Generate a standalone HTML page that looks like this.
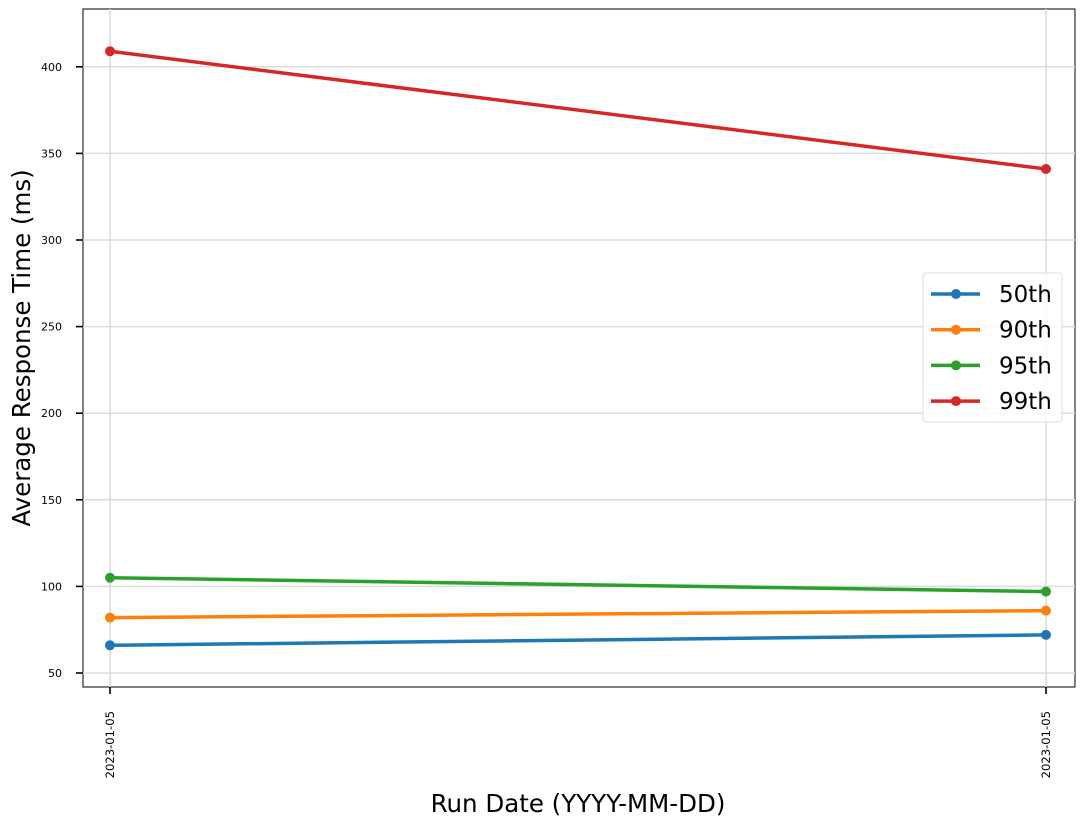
<!DOCTYPE html>
<html><head><meta charset="utf-8"><style>
body{margin:0;background:#fff;}
svg{display:block;font-family:"DejaVu Sans","Liberation Sans",sans-serif;}
</style></head><body>
<svg id="chart" width="1084" height="827">
<rect x="83" y="9" width="992" height="678" fill="#fff" stroke="#000" stroke-width="1"/>
<g id="grid"></g><g id="axes"></g><g id="series"></g>
<text x="578" y="812" font-size="24.5" text-anchor="middle">Run Date (YYYY-MM-DD)</text>
<text transform="translate(30,348) rotate(-90)" font-size="24.5" text-anchor="middle">Average Response Time (ms)</text>
<g id="legend"></g>
</svg>
<script>
const categories = ["2023-01-05", "2023-01-05"];
const seriesNames = ["50th", "90th", "95th", "99th"];
const p50 = [66, 72];
const p90 = [82, 86];
const p95 = [105, 97];
const p99 = [409, 341];
const yTicks = [50, 100, 150, 200, 250, 300, 350, 400];
const colors = ["#1f77b4", "#ff7f0e", "#2ca02c", "#d62728"];
const allSeries = [p50, p90, p95, p99];

const NS = "http://www.w3.org/2000/svg";
function mk(tag, attrs, parent){const e=document.createElementNS(NS,tag);for(const k in attrs)e.setAttribute(k,attrs[k]);parent.appendChild(e);return e;}
const x = i => 110 + i * (1046 - 110) / (categories.length - 1);
const y = v => 673 - (v - 50) * (86.6 / 50);
const grid = document.getElementById('grid'), axes = document.getElementById('axes'), ser = document.getElementById('series'), leg = document.getElementById('legend');

yTicks.forEach(t => {
  const g = mk('line',{x1:83,x2:1075,y1:y(t),y2:y(t),stroke:'#dcdcdc','stroke-width':1.5},grid);
  
  
  mk('line',{x1:76,x2:83,y1:y(t),y2:y(t),stroke:'#000','stroke-width':1.6},axes);
  const l = mk('text',{x:62,y:y(t)+4,'font-size':11,'text-anchor':'end'},axes);
  l.textContent = t;
  
  
});
categories.forEach((c,i) => {
  const g = mk('line',{x1:x(i),x2:x(i),y1:9,y2:687,stroke:'#dcdcdc','stroke-width':1.5},grid);
  
  
  mk('line',{x1:x(i),x2:x(i),y1:687,y2:694,stroke:'#000','stroke-width':1.6},axes);
  const l = mk('text',{transform:`translate(${x(i)+4},711) rotate(-90)`,'font-size':11.6,'text-anchor':'end'},axes);
  l.textContent = c;
  
  
});
allSeries.forEach((s,k) => {
  const pl = mk('polyline',{points:s.map((v,i)=>x(i)+','+y(v)).join(' '),fill:'none',stroke:colors[k],'stroke-width':3.5},ser);
  
  
  s.forEach((v,i) => {
    const c = mk('circle',{cx:x(i),cy:y(v),r:5,fill:colors[k]},ser);
    
    
  });
});
mk('rect',{x:923,y:273,width:139,height:149,rx:3,fill:'#fff','fill-opacity':0.85,stroke:'#ddd'},leg);
seriesNames.forEach((n,k) => {
  const yy = 294 + k*35.7;
  const g = mk('g',{},leg);
  
  
  mk('line',{x1:931,x2:980,y1:yy,y2:yy,stroke:colors[k],'stroke-width':3.5},g);
  mk('circle',{cx:956,cy:yy,r:5,fill:colors[k]},g);
  const t = mk('text',{x:999,y:yy+8,'font-size':23},g);
  t.textContent = n;
});
</script>
</body></html>
